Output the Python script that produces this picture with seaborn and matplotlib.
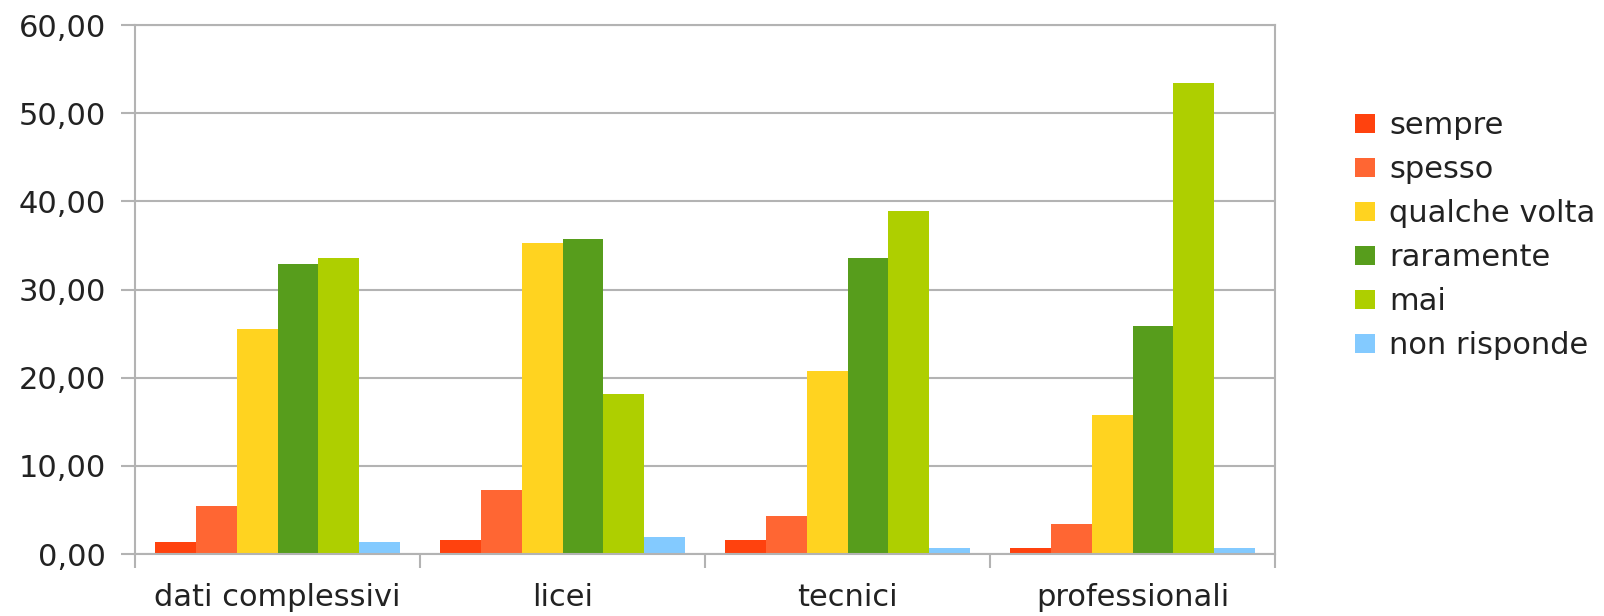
import pandas as pd
import numpy as np
import matplotlib
matplotlib.use("Agg")
import matplotlib.pyplot as plt
import seaborn as sns

# dati
categorie = ["dati complessivi", "licei", "tecnici", "professionali"]
risposte = ["sempre", "spesso", "qualche volta", "raramente", "mai", "non risponde"]

sempre = [1.33, 1.64, 1.64, 0.72]
spesso = [5.5, 7.24, 4.27, 3.43]
qualche_volta = [25.5, 35.3, 20.8, 15.8]
raramente = [32.95, 35.7, 33.6, 25.9]
mai = [33.56, 18.2, 38.9, 53.4]
non_risponde = [1.33, 1.9, 0.72, 0.72]

colori = ["#ff420e", "#ff6633", "#ffd320", "#579d1c", "#aecf00", "#83caff"]
yticks = [0, 10, 20, 30, 40, 50, 60]

serie = [sempre, spesso, qualche_volta, raramente, mai, non_risponde]
righe = []
for r, vals in zip(risposte, serie):
    for c, v in zip(categorie, vals):
        righe.append({"categoria": c, "risposta": r, "valore": v})
df = pd.DataFrame(righe)

sns.set_style("white")
plt.rcParams['font.family'] = ['DejaVu Sans']
fs = 22
grigio = "#b3b3b3"

fig = plt.figure(figsize=(16.04, 6.16), dpi=100)
ax = fig.add_axes([0.0842, 0.1006, 0.7107, 0.8588])

sns.barplot(data=df, x="categoria", y="valore", hue="risposta",
            order=categorie, hue_order=risposte, palette=colori,
            saturation=1, width=0.86, ax=ax, errorbar=None, linewidth=0)

ax.set_ylim(0, 60)
ax.set_xlim(-0.5, 3.5)
ax.set_yticks(yticks)
ax.set_yticklabels([f"{v:.2f}".replace(".", ",") for v in yticks])
ax.yaxis.grid(True, color=grigio, linewidth=1.5)
ax.set_axisbelow(True)
ax.set_xlabel("")
ax.set_ylabel("")

for s in ax.spines.values():
    s.set_color(grigio)
    s.set_linewidth(1.5)

# tacche ai confini delle categorie
ax.set_xticks(np.arange(-0.5, 4.0, 1.0), minor=True)
ax.tick_params(axis="x", which="minor", length=10, width=1.5, color=grigio, bottom=True)
ax.tick_params(axis="x", which="major", length=0, pad=21, labelsize=fs, labelcolor="#222222")
ax.tick_params(axis="y", length=10, width=1.5, color=grigio, left=True, pad=11,
               labelsize=fs, labelcolor="#222222")

h, l = ax.get_legend_handles_labels()
ax.legend(h, l, loc="center left", bbox_to_anchor=(0.845, 0.617),
          bbox_transform=fig.transFigure, frameon=False, fontsize=fs,
          handlelength=0.65, handleheight=0.6, handletextpad=0.45,
          labelspacing=0.49, borderpad=0, borderaxespad=0, labelcolor="#222222")

fig.savefig("out.png", dpi=100)
